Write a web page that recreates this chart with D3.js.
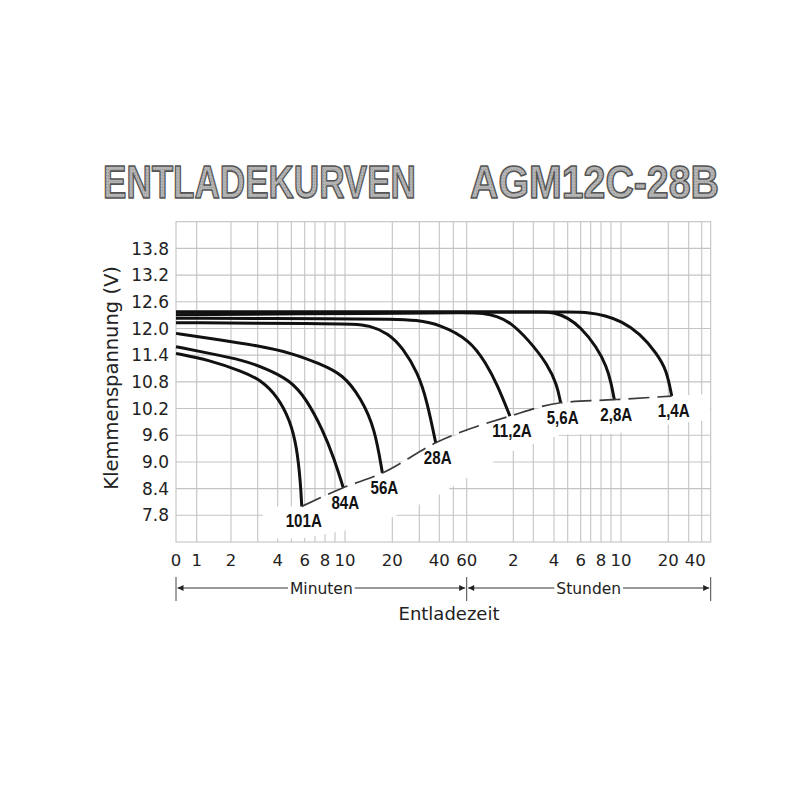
<!DOCTYPE html>
<html>
<head>
<meta charset="utf-8">
<script src="https://cdn.jsdelivr.net/npm/d3@7/dist/d3.min.js"></script>
<style>
  body { margin: 0; background: #fff; }
</style>
</head>
<body>
<div id="container"></div>
<script>
// time axis of the sheet is hand drawn: grid values (minutes) and their offset from the left border
let gridMinutes = [0, 1, 2, 3, 4, 5, 6, 7, 8, 9, 10, 20, 30, 40, 50, 60,
                   120, 180, 240, 300, 360, 420, 480, 540, 600, 1200, 1800, 3000, 3600];
let gridOffsets = [0, 20.7, 55, 81.7, 101.7, 115.3, 128.7, 139, 149, 159, 169, 216.3, 243.3, 263.3, 277.3, 290.7,
                   337.3, 357.3, 378, 391.7, 404.7, 414.7, 425, 435, 445, 492.3, 512.7, 525.7, 534.7];

let minuteTicks = [0, 1, 2, 4, 6, 8, 10, 20, 40, 60];
let hourTicks = [2, 4, 6, 8, 10, 20, 40];
let voltTicks = [7.8, 8.4, 9.0, 9.6, 10.2, 10.8, 11.4, 12.0, 12.6, 13.2, 13.8];

let currents = ["101A", "84A", "56A", "28A", "11,2A", "5,6A", "2,8A", "1,4A"];

// discharge curves: time in minutes, voltage in V
let t101 = [0, 1.37, 2.44, 3.17, 4.02, 4.9, 5.42, 5.69, 5.78];
let v101 = [11.44, 11.29, 11.03, 10.84, 10.46, 9.94, 9.33, 8.52, 8.00];
let t84 = [0, 1.37, 2.44, 3.42, 4.9, 6.13, 7.8, 8.9, 9.83];
let v84 = [11.59, 11.44, 11.29, 11.10, 10.84, 10.43, 9.71, 9.08, 8.42];
let t56 = [0, 1.37, 3.08, 5.1, 7.43, 9.8, 13.4, 16.3, 17.9];
let v56 = [11.89, 11.78, 11.61, 11.44, 11.21, 10.97, 10.43, 9.76, 8.75];
let t28 = [0, 8, 12, 15.0, 19.1, 23.96, 29.5, 33.85, 38.2];
let v28 = [12.13, 12.11, 12.10, 12.07, 11.90, 11.56, 11.00, 10.37, 9.43];
let t11 = [0, 10, 20, 29, 40.5, 64.3, 84.8, 99, 115.7];
let v11 = [12.23, 12.22, 12.21, 12.19, 12.09, 11.74, 11.22, 10.75, 10.03];
let t5 = [0, 20, 60, 81, 100, 116, 164, 223, 253, 269];
let v5 = [12.31, 12.34, 12.36, 12.35, 12.27, 12.14, 11.76, 11.18, 10.73, 10.33];
let t2 = [0, 120, 200, 244, 300, 357, 455, 514, 540, 560];
let v2 = [12.37, 12.37, 12.37, 12.36, 12.24, 12.04, 11.59, 11.14, 10.79, 10.40];
let t1 = [0, 200, 300, 420, 504, 600, 841, 1053, 1180, 1300];
let v1 = [12.37, 12.37, 12.37, 12.36, 12.29, 12.17, 11.89, 11.44, 11.06, 10.48];

let w = 800;
let h = 800;
let plotLeft = 176, plotRight = 710.7, plotTop = 221.7, plotBottom = 542;

let viz = d3.select("#container")
  .append("svg")
    .attr("width", w)
    .attr("height", h)
    .style("background-color", "#fff");

let x = d3.scaleLinear().domain(gridMinutes).range(gridOffsets.map(d => plotLeft + d));
let y = d3.scaleLinear().domain([7.2, 14.4]).range([plotBottom, plotTop]);

let curves = [
  {name: currents[0], t: t101, v: v101},
  {name: currents[1], t: t84, v: v84},
  {name: currents[2], t: t56, v: v56},
  {name: currents[3], t: t28, v: v28},
  {name: currents[4], t: t11, v: v11},
  {name: currents[5], t: t5, v: v5},
  {name: currents[6], t: t2, v: v2},
  {name: currents[7], t: t1, v: v1}
];
curves.forEach(c => { c.points = c.t.map((t, i) => [t, c.v[i]]); });
let ends = curves.map(c => c.points[c.points.length - 1]);

let defs = viz.append("defs");

// halftone look of the title letters
let dots = defs.append("pattern")
  .attr("id", "dots")
  .attr("width", 3).attr("height", 3)
  .attr("patternUnits", "userSpaceOnUse");
dots.append("rect").attr("width", 3).attr("height", 3).attr("fill", "#b4b4b4");
dots.append("circle").attr("cx", 1.5).attr("cy", 1.5).attr("r", 0.6).attr("fill", "#8e8e8e");

// squeeze a text horizontally so it fills a given width
function squeeze(sel, x0, y0, width) {
  let natural = sel.node().getComputedTextLength();
  sel.attr("transform", "translate(" + x0 + "," + y0 + ") scale(" + (width / natural) + ",1)");
}

// TITLE
let titles = [
  {text: "ENTLADEKURVEN", x: 103, width: 313},
  {text: "AGM12C-28B", x: 470, width: 249}
];
titles.forEach(t => {
  let txt = viz.append("text").text(t.text)
    .style("font-family", "'Liberation Sans', Arial, sans-serif")
    .style("font-weight", "bold")
    .style("font-size", "47px")
    .attr("fill", "url(#dots)")
    .attr("stroke", "#555")
    .attr("stroke-width", 1.6)
    .attr("stroke-linejoin", "round");
  squeeze(txt, t.x, 198, t.width);
});

// GRID
let grid = viz.append("g").attr("stroke", "#c3c3c3").attr("stroke-width", 1.1);
grid.selectAll(".vgrid").data(gridMinutes.slice(1, -1)).enter()
  .append("line")
    .attr("x1", d => x(d)).attr("x2", d => x(d))
    .attr("y1", plotTop).attr("y2", plotBottom);
grid.selectAll(".hgrid").data(voltTicks).enter()
  .append("line")
    .attr("x1", plotLeft).attr("x2", plotRight)
    .attr("y1", d => y(d)).attr("y2", d => y(d));
grid.append("rect")
  .attr("x", plotLeft).attr("y", plotTop)
  .attr("width", plotRight - plotLeft).attr("height", plotBottom - plotTop)
  .attr("fill", "none");

// white band under the end-voltage line (hides the grid behind the labels)
let bandDepth = [32, 43, 49, 54, 36, 32, 34, 28];
let topEdge = ends.map(d => [x(d[0]), y(d[1])]);
let bottomEdge = ends.map((d, i) => [x(d[0]), y(d[1]) + bandDepth[i]]).reverse();
let band = [[topEdge[0][0] - 39, topEdge[0][1]]].concat(topEdge,
  [[plotRight - 1, topEdge[7][1] - 2], [plotRight - 1, topEdge[7][1] + 24]], bottomEdge,
  [[topEdge[0][0] - 39, topEdge[0][1] + 32]]);
viz.append("polygon")
  .attr("points", band.map(p => p.join(",")).join(" "))
  .attr("fill", "#fff");

// CURVES
let line = d3.line()
  .x(d => x(d[0]))
  .y(d => y(d[1]))
  .curve(d3.curveBasis);

viz.selectAll(".curve").data(curves).enter()
  .append("path")
    .attr("class", "curve")
    .attr("d", d => line(d.points))
    .attr("fill", "none")
    .attr("stroke", "#111")
    .attr("stroke-width", 3);

// end-voltage line
viz.append("path")
  .attr("d", line.curve(d3.curveMonotoneX)(ends))
  .attr("fill", "none")
  .attr("stroke", "#3a3a3a")
  .attr("stroke-width", 1.7)
  .attr("stroke-dasharray", "21,8");

// current labels
viz.selectAll(".clabel").data(curves).enter()
  .append("text")
    .attr("class", "clabel")
    .text(d => d.name)
    .attr("text-anchor", "middle")
    .attr("fill", "#111")
    .style("font-family", "'Liberation Sans', Arial, sans-serif")
    .style("font-weight", "bold")
    .style("font-size", "18px")
    .attr("transform", (d, i) => "translate(" + (x(ends[i][0]) + 2) + "," + (y(ends[i][1]) + 21) + ") scale(0.84,1)");

// Y AXIS
viz.selectAll(".ylabel").data(voltTicks).enter()
  .append("text")
    .text(d => d.toFixed(1))
    .attr("x", 169)
    .attr("y", d => y(d))
    .attr("dy", "0.36em")
    .attr("text-anchor", "end")
    .attr("fill", "#222")
    .style("font-family", "'DejaVu Sans', sans-serif")
    .style("font-size", "17px");

viz.append("text")
  .text("Klemmenspannung (V)")
  .attr("transform", "translate(118," + (y(10.8) - 4) + ") rotate(-90)")
  .attr("text-anchor", "middle")
  .attr("fill", "#222")
  .style("font-family", "'DejaVu Sans', sans-serif")
  .style("font-size", "19.5px");

// X AXIS
let xTicks = minuteTicks.map(d => ({t: d, label: String(d)}))
  .concat(hourTicks.map(d => ({t: d * 60, label: String(d)})));
viz.selectAll(".xlabel").data(xTicks).enter()
  .append("text")
    .text(d => d.label)
    .attr("x", d => x(d.t))
    .attr("y", 566)
    .attr("text-anchor", "middle")
    .attr("fill", "#222")
    .style("font-family", "'DejaVu Sans', sans-serif")
    .style("font-size", "16.5px");

// Minuten / Stunden brackets
defs.append("marker")
  .attr("id", "arrow")
  .attr("viewBox", "0 0 10 10")
  .attr("refX", 10).attr("refY", 5)
  .attr("markerWidth", 9).attr("markerHeight", 6)
  .attr("markerUnits", "userSpaceOnUse")
  .attr("orient", "auto-start-reverse")
  .append("path")
    .attr("d", "M0,0 L10,5 L0,10 z")
    .attr("fill", "#222");

let bracketY = 588;
let spans = [
  {from: 0, to: 60, label: "Minuten"},
  {from: 60, to: 3600, label: "Stunden"}
];
viz.selectAll(".btick").data([0, 60, 3600]).enter()
  .append("line")
    .attr("x1", d => x(d)).attr("x2", d => x(d))
    .attr("y1", 577).attr("y2", 601)
    .attr("stroke", "#444")
    .attr("stroke-width", 1);

spans.forEach(s => {
  let x1 = x(s.from) + 1.5, x2 = x(s.to) - 1.5;
  viz.append("line")
    .attr("x1", x1).attr("x2", x2)
    .attr("y1", bracketY).attr("y2", bracketY)
    .attr("stroke", "#333")
    .attr("stroke-width", 1)
    .attr("marker-start", "url(#arrow)")
    .attr("marker-end", "url(#arrow)");
  let txt = viz.append("text")
    .text(s.label)
    .attr("x", (x1 + x2) / 2)
    .attr("y", bracketY + 5.5)
    .attr("text-anchor", "middle")
    .attr("fill", "#222")
    .style("font-family", "'DejaVu Sans', sans-serif")
    .style("font-size", "15.5px");
  let bb = txt.node().getBBox();
  viz.insert("rect", () => txt.node())
    .attr("x", bb.x - 2).attr("y", bb.y)
    .attr("width", bb.width + 4).attr("height", bb.height)
    .attr("fill", "#fff");
});

viz.append("text")
  .text("Entladezeit")
  .attr("x", 449)
  .attr("y", 620)
  .attr("text-anchor", "middle")
  .attr("fill", "#222")
  .style("font-family", "'DejaVu Sans', sans-serif")
  .style("font-size", "18px");
</script>
</body>
</html>
